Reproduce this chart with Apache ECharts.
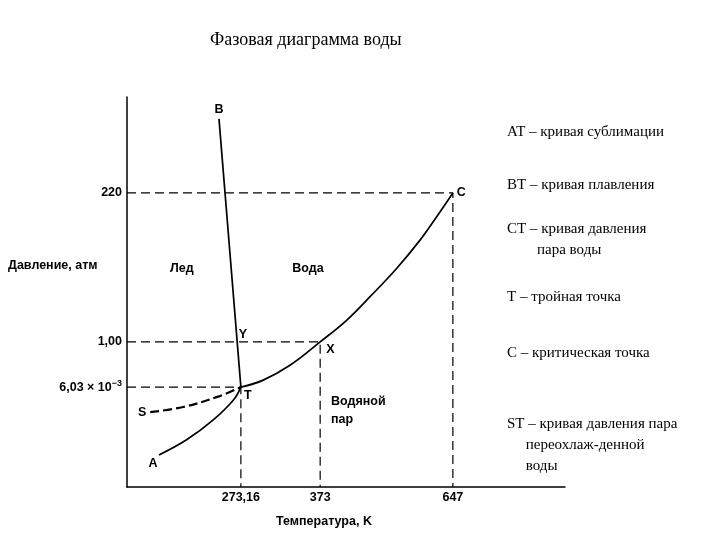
<!DOCTYPE html>
<html><head><meta charset="utf-8">
<script src="https://cdn.jsdelivr.net/npm/echarts@6/dist/echarts.min.js"></script>
<style>html,body{margin:0;padding:0;background:#fff}#c{width:720px;height:540px}</style>
</head><body><div id="c"></div>
<script>
// Schematic coordinates (0-100 on each axis)
const xTickValues = [26.0, 44.1, 74.4];
const xTickLabels = ['273,16', '373', '647'];
const yTickValues = [25.6, 37.2, 75.4];
const yTickLabels = ['6,03 × 10{s|−3}', '1,00', '220'];

// Points: T (triple), X (boiling at 1 atm), C (critical), B (top of melting curve), Y, S, A
const pointT = [26.0, 25.6];
const pointX = [44.1, 37.2];
const pointC = [74.4, 75.4];
const pointB = [21.0, 94.4];
const pointY = [25.1, 37.2];
const pointS = [5.3, 19.2];
const pointA = [7.3, 8.2];

const curveCT = [[26.0,25.6],[31.1,27.4],[37.2,31.2],[44.1,37.2],[50.2,42.8],[55.5,48.8],[61.6,56.1],[66.9,63.3],[70.7,69.3],[74.4,75.4]];
const curveAT = [[7.3,8.2],[13.6,12.1],[19.7,17.2],[24.3,22.3],[26.0,25.6]];
const curveST = [[5.3,19.2],[12.8,20.5],[20.6,23.1],[26.0,25.6]];
const curveBT = [[21.0,94.4],[26.0,25.6]];

const legendLines = [
  ['AT – кривая сублимации'],
  ['BT – кривая плавления'],
  ['CT – кривая давления', '        пара воды'],
  ['T – тройная точка'],
  ['C – критическая точка'],
  ['ST – кривая давления пара', '     переохлаж-денной', '     воды']
];

const chart = echarts.init(document.getElementById('c'), null, {renderer:'canvas'});
const sans = 'Liberation Sans, Arial, sans-serif';
const serif = 'Liberation Serif, Times New Roman, serif';

function nearestLabel(vals, labels, v){
  let best = 0;
  for (let i=1;i<vals.length;i++) if (Math.abs(vals[i]-v) < Math.abs(vals[best]-v)) best = i;
  return labels[best];
}
function dashPath(points){ return {type:'line', data:points, symbol:'none', silent:true,
  lineStyle:{color:'#000', width:1.2, type:[9,5]}, z:2}; }

const legendY = [132, 185, 229, 297, 353, 424];
const graphics = [];
legendLines.forEach((lines, i) => {
  lines.forEach((t, j) => {
    graphics.push({type:'text', left:507, top: legendY[i] - 7 + j*21,
      style:{text:t, font:'15px ' + serif, fill:'#000'}});
  });
});
graphics.push({type:'text', left:210, top:31, style:{text:'Фазовая диаграмма воды', font:'18px '+serif, fill:'#000'}});
graphics.push({type:'text', left:8, top:259, style:{text:'Давление, атм', font:'bold 12.5px '+sans, fill:'#000'}});
graphics.push({type:'text', left:276, top:515, style:{text:'Температура, K', font:'bold 12.5px '+sans, fill:'#000'}});

const pointLabel = {show:true, color:'#000', fontFamily:sans, fontSize:12.5, fontWeight:'bold',
  textBorderWidth:0, textBorderColor:'transparent', opacity:1, formatter:p=>p.data.n};

chart.setOption({
  animation:false,
  backgroundColor:'#fff',
  grid:{left:127, right:155, top:97, bottom:53},
  xAxis:{type:'value', min:0, max:100,
    axisLine:{show:true, lineStyle:{color:'#000', width:1.5}},
    axisTick:{show:false}, splitLine:{show:false},
    axisLabel:{customValues:xTickValues, margin:4, color:'#000', fontSize:12.5, fontWeight:'bold', fontFamily:sans,
      formatter:v => nearestLabel(xTickValues, xTickLabels, v)}},
  yAxis:{type:'value', min:0, max:100,
    axisLine:{show:true, lineStyle:{color:'#000', width:1.5}},
    axisTick:{show:false}, splitLine:{show:false},
    axisLabel:{customValues:yTickValues, margin:5, color:'#000', fontSize:12.5, fontWeight:'bold', fontFamily:sans,
      formatter:v => nearestLabel(yTickValues, yTickLabels, v),
      rich:{s:{fontSize:9, fontWeight:'bold', fontFamily:sans, color:'#000', verticalAlign:'top', padding:[0,0,8,0]}}}},
  graphic:graphics,
  series:[
    dashPath([[0,pointC[1]], pointC, [pointC[0],0]]),
    dashPath([[0,pointX[1]], pointX, [pointX[0],0]]),
    dashPath([[0,pointT[1]], pointT, [pointT[0],0]]),
    {type:'line', data:curveCT, smooth:0.4, symbol:'none', lineStyle:{color:'#000', width:1.7}, z:3},
    {type:'line', data:curveAT, smooth:0.4, symbol:'none', lineStyle:{color:'#000', width:1.7}, z:3},
    {type:'line', data:curveST, smooth:0.4, symbol:'none', lineStyle:{color:'#000', width:2.2, type:[9,4]}, z:3},
    {type:'line', data:curveBT, symbol:'none', lineStyle:{color:'#000', width:1.7}, z:3},
    {type:'scatter', symbolSize:0, silent:true, z:5, itemStyle:{color:'#000', opacity:1},
      label:pointLabel,
      data:[
        {value:pointB, n:'B', label:{position:'top', distance:3}},
        {value:pointC, n:'C', label:{position:'right', distance:4}},
        {value:pointY, n:'Y', label:{position:'top', offset:[6,0], distance:1}},
        {value:pointX, n:'X', label:{position:'right', offset:[2,8], distance:4}},
        {value:pointT, n:'T', label:{position:'right', offset:[0,8], distance:3}},
        {value:pointS, n:'S', label:{position:'left', distance:4}},
        {value:pointA, n:'A', label:{position:'bottom', offset:[-6,0], distance:2}}
      ]},
    {type:'scatter', symbolSize:0, silent:true, z:5, itemStyle:{color:'#000', opacity:1},
      label:Object.assign({}, pointLabel, {position:'inside'}),
      data:[
        {value:[12.5, 56.0], n:'Лед'},
        {value:[41.3, 56.0], n:'Вода'},
        {value:[52.3, 19.5], n:'Водяной\nпар', label:{align:'left', offset:[-25,0], lineHeight:18}}
      ]}
  ]
});
</script></body></html>
